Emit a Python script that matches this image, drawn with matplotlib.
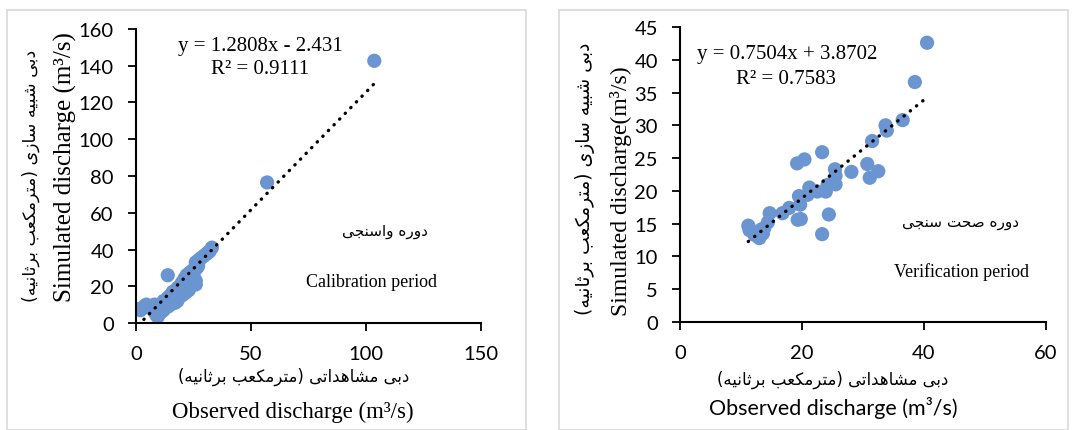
import numpy as np
import matplotlib
matplotlib.use("Agg")
import matplotlib.pyplot as plt
from matplotlib.patches import Rectangle

# calibration period (left panel)
cal_obs = [1.0, 2.0, 3.5, 4.5, 5.5, 7.0, 8.0, 9.0, 9.5, 10.0, 11.0, 12.0, 12.0, 13.0,
           13.8, 14.0, 14.5, 15.0, 15.5, 16.0, 16.0, 17.0, 17.5, 18.0, 18.0, 19.0,
           19.5, 20.0, 20.0, 21.0, 21.5, 22.0, 22.0, 23.0, 23.0, 24.0, 24.5, 25.0,
           25.5, 26.0, 26.5, 26.0, 27.0, 28.0, 29.0, 30.0, 31.0, 32.0, 33.0,
           6.0, 8.0, 10.0, 11.0, 12.0, 14.0, 15.0, 16.0, 17.0, 18.0, 19.0, 20.0,
           21.0, 22.0, 23.0, 24.0, 25.0, 26.0, 22.0, 20.0, 25.0, 27.0, 24.0,
           57.0, 103.6]
cal_sim = [7.5, 7.0, 9.0, 10.0, 8.5, 8.0, 6.0, 4.0, 3.5, 5.0, 8.0, 10.0, 12.0, 11.0,
           26.0, 14.0, 12.0, 15.0, 13.0, 11.0, 17.0, 16.0, 13.0, 19.0, 14.0, 20.0,
           17.0, 22.0, 15.0, 24.0, 19.0, 26.0, 20.0, 27.0, 18.0, 25.0, 21.0, 29.0,
           22.0, 23.0, 30.0, 33.0, 34.0, 35.0, 36.0, 37.0, 38.0, 39.0, 41.0,
           9.0, 10.0, 9.0, 6.0, 7.0, 9.0, 10.0, 14.0, 11.0, 12.0, 16.0, 18.0,
           16.0, 17.0, 21.0, 22.0, 24.0, 21.0, 23.0, 20.0, 26.0, 31.0, 28.0,
           76.5, 142.7]
cal_slope, cal_icpt = 1.2808, -2.431

# verification period (right panel)
ver_obs = [40.5, 38.5, 36.5, 33.7, 33.9, 31.5, 30.7, 32.5, 31.1, 28.1, 25.4, 25.5,
           25.5, 23.3, 19.2, 20.4, 21.2, 20.9, 22.5, 23.9, 24.2, 19.5, 19.7, 17.9,
           16.8, 19.3, 19.8, 14.7, 14.4, 13.3, 13.6, 13.0, 12.2, 11.2, 11.4, 24.4,
           23.3, 13.8]
ver_sim = [42.6, 36.6, 30.8, 30.0, 29.2, 27.6, 24.1, 23.0, 22.0, 22.9, 23.3, 22.3,
           21.0, 25.9, 24.2, 24.8, 20.5, 19.4, 19.9, 19.9, 20.9, 19.2, 17.9, 17.4,
           16.6, 15.6, 15.7, 16.6, 15.2, 14.1, 13.5, 12.8, 13.3, 14.7, 14.0, 16.4,
           13.4, 14.3]
ver_slope, ver_icpt = 0.7504, 3.8702

cal_xticks = [0, 50, 100, 150]
cal_yticks = [0, 20, 40, 60, 80, 100, 120, 140, 160]
ver_xticks = [0, 20, 40, 60]
ver_yticks = [0, 5, 10, 15, 20, 25, 30, 35, 40, 45]

FORMS = {  # isolated, final, initial, medial
    '\u0627': ('\uFE8D', '\uFE8E', None, None),
    '\u0628': ('\uFE8F', '\uFE90', '\uFE91', '\uFE92'),
    '\u062A': ('\uFE95', '\uFE96', '\uFE97', '\uFE98'),
    '\u062B': ('\uFE99', '\uFE9A', '\uFE9B', '\uFE9C'),
    '\u062C': ('\uFE9D', '\uFE9E', '\uFE9F', '\uFEA0'),
    '\u062D': ('\uFEA1', '\uFEA2', '\uFEA3', '\uFEA4'),
    '\u062F': ('\uFEA9', '\uFEAA', None, None),
    '\u0631': ('\uFEAD', '\uFEAE', None, None),
    '\u0632': ('\uFEAF', '\uFEB0', None, None),
    '\u0633': ('\uFEB1', '\uFEB2', '\uFEB3', '\uFEB4'),
    '\u0634': ('\uFEB5', '\uFEB6', '\uFEB7', '\uFEB8'),
    '\u0635': ('\uFEB9', '\uFEBA', '\uFEBB', '\uFEBC'),
    '\u0639': ('\uFEC9', '\uFECA', '\uFECB', '\uFECC'),
    '\u0645': ('\uFEE1', '\uFEE2', '\uFEE3', '\uFEE4'),
    '\u0646': ('\uFEE5', '\uFEE6', '\uFEE7', '\uFEE8'),
    '\u0647': ('\uFEE9', '\uFEEA', '\uFEEB', '\uFEEC'),
    '\u0648': ('\uFEED', '\uFEEE', None, None),
    '\u06CC': ('\uFEEF', '\uFEF0', '\uFEF3', '\uFEF4'),
    '\u06A9': ('\uFB8E', '\uFB8F', '\uFB90', '\uFB91'),
}


def shape_fa(s):
    # join letters into presentation forms, then lay them out right to left
    out = []
    for i, c in enumerate(s):
        if c not in FORMS:
            out.append(c)
            continue
        prev = s[i - 1] if i > 0 else ''
        nxt = s[i + 1] if i + 1 < len(s) else ''
        join_prev = prev in FORMS and FORMS[prev][2] is not None
        join_next = nxt in FORMS and FORMS[c][2] is not None
        iso, fin, ini, med = FORMS[c]
        if join_prev and join_next:
            out.append(med)
        elif join_prev:
            out.append(fin)
        elif join_next:
            out.append(ini)
        else:
            out.append(iso)
    res = ''.join(reversed(out))
    return res.translate(str.maketrans('()', ')('))


plt.rcParams['font.family'] = ['Lato', 'DejaVu Sans']
SERIF = 'Liberation Serif'
FA = 'DejaVu Sans'
dot_color = '#6b95d0'

fig = plt.figure(figsize=(10.72, 4.31), dpi=100)
W, H = 1072, 431

def fx(x):
    return x / W

def fy(y):
    return 1 - y / H

for x0, x1 in [(7, 526), (559, 1068)]:
    fig.patches.append(Rectangle((fx(x0), 0), fx(x1 - x0), fy(11), transform=fig.transFigure,
                                 fill=False, edgecolor='#d9d9d9', lw=1.2))

ax1 = fig.add_axes([fx(136), fy(324), fx(481 - 136), (324 - 30) / H])
ax2 = fig.add_axes([fx(680), fy(323), fx(1046 - 680), (323 - 28) / H])

panels = [
    (ax1, cal_obs, cal_sim, cal_slope, cal_icpt, cal_xticks, cal_yticks),
    (ax2, ver_obs, ver_sim, ver_slope, ver_icpt, ver_xticks, ver_yticks),
]
for ax, xo, ys, a, b, xt, yt in panels:
    ax.scatter(xo, ys, s=105, color=dot_color, edgecolors='none', zorder=2)
    xl = np.array([min(xo), max(xo)])
    ax.plot(xl, a * xl + b, color='black', lw=2.4, linestyle=(0, (0.1, 2.3)),
            dash_capstyle='round', zorder=3)
    ax.set_xlim(xt[0], xt[-1])
    ax.set_ylim(yt[0], yt[-1])
    ax.set_xticks(xt)
    ax.set_yticks(yt)
    for sp in ['top', 'right']:
        ax.spines[sp].set_visible(False)
    for sp in ['left', 'bottom']:
        ax.spines[sp].set_linewidth(1.5)
    ax.tick_params(direction='out', length=6, width=1.3, labelsize=14.5)
    ax.tick_params(axis='y', pad=10)
    ax.tick_params(axis='x', pad=10)
    ax.set_facecolor('none')

# left panel texts
fig.text(fx(65), fy(167), 'Simulated discharge (m\u00b3/s)', rotation=90, ha='center',
         va='center', family=SERIF, fontsize=18)
fig.text(fx(31), fy(176), shape_fa('دبی شبیه سازی (مترمکعب برثانیه)'), rotation=90,
         ha='center', va='center', family=FA, fontsize=12.5)
fig.text(fx(294), fy(377), shape_fa('دبی مشاهداتی (مترمکعب برثانیه)'), ha='center',
         va='center', family=FA, fontsize=12)
fig.text(fx(293), fy(412), 'Observed discharge (m\u00b3/s)', ha='center', va='center',
         family=SERIF, fontsize=16.5)
fig.text(fx(260), fy(47), 'y = 1.2808x - 2.431', ha='center', va='center',
         family=SERIF, fontsize=15)
fig.text(fx(260), fy(70), 'R\u00b2 = 0.9111', ha='center', va='center',
         family=SERIF, fontsize=15)
fig.text(fx(385), fy(232), shape_fa('دوره واسنجی'), ha='center', va='center',
         family=FA, fontsize=11)
fig.text(fx(372), fy(283), 'Calibration period', ha='center', va='center',
         family=SERIF, fontsize=13)

# right panel texts
fig.text(fx(621), fy(191), 'Simulated discharge(m\u00b3/s)', rotation=90, ha='center',
         va='center', family=SERIF, fontsize=17)
fig.text(fx(585), fy(179), shape_fa('دبی شبیه سازی (مترمکعب برثانیه)'), rotation=90,
         ha='center', va='center', family=FA, fontsize=13.5)
fig.text(fx(833), fy(380), shape_fa('دبی مشاهداتی (مترمکعب برثانیه)'), ha='center',
         va='center', family=FA, fontsize=12)
fig.text(fx(833), fy(408), 'Observed discharge (m\u00b3/s)', ha='center', va='center',
         fontsize=15.5)
fig.text(fx(787), fy(55), 'y = 0.7504x + 3.8702', ha='center', va='center',
         family=SERIF, fontsize=15)
fig.text(fx(786), fy(80), 'R\u00b2 = 0.7583', ha='center', va='center',
         family=SERIF, fontsize=15)
fig.text(fx(961), fy(223), shape_fa('دوره صحت سنجی'), ha='center', va='center',
         family=FA, fontsize=11)
fig.text(fx(961), fy(272), 'Verification period', ha='center', va='center',
         family=SERIF, fontsize=13)

fig.savefig('out.png', dpi=100, facecolor='white')
